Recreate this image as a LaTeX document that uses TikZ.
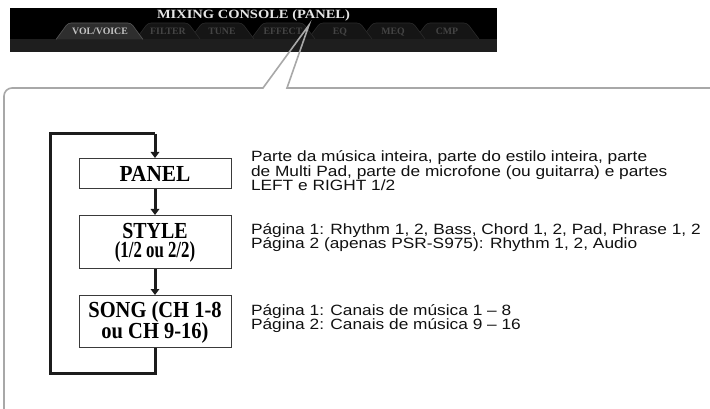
\documentclass[tikz,border=0pt]{standalone}
\usepackage{fontspec}
\usepackage{graphicx}
\setmainfont{Liberation Serif}
\newfontfamily\hel{Liberation Sans}
\usetikzlibrary{arrows.meta}
\definecolor{hdrstrip}{HTML}{1E1E1E}
\definecolor{tabdark}{HTML}{151515}
\definecolor{tabedge}{HTML}{2A2A2A}
\definecolor{tabsel}{HTML}{2E2E2E}
\definecolor{tablbl}{HTML}{444444}
\definecolor{tabsellbl}{HTML}{C4C4C4}
\definecolor{titlecol}{HTML}{E6E6E6}
\definecolor{callgray}{HTML}{A8A8A8}
\definecolor{loopcol}{HTML}{1C1C1C}
\definecolor{boxedge}{HTML}{3A3A3A}
\definecolor{txtcol}{HTML}{111111}
\newcommand{\bxt}[2]{\scalebox{#1}[1.12]{#2}}
\newcommand{\rxt}[1]{\scalebox{1}[0.86]{#1}}
\begin{document}
\begin{tikzpicture}[x=1pt,y=-1pt,
  every node/.style={inner sep=0pt, outer sep=0pt},
  flowbox/.style={draw=boxedge, line width=0.9pt, fill=white, minimum width=152pt},
  btxt/.style={anchor=base, font=\bfseries\fontsize{20.5}{20}\selectfont, text=black},
  rtxt/.style={anchor=base west, font=\hel\fontsize{17.3}{14.5}\selectfont, text=txtcol},
  tablabel/.style={anchor=base, font=\bfseries\fontsize{9.8}{10}\selectfont, text=tablbl},
  looparrow/.style={draw=loopcol, line width=3pt, line join=miter, -{Triangle[length=6pt,width=8.5pt]}},
  loopline/.style={draw=loopcol, line width=3pt, line join=miter},
  callout/.style={draw=callgray, line width=1.6pt, line join=miter}
]
\useasboundingbox (0,0) rectangle (710,409);
\fill[white] (0,0) rectangle (710,409);

% ---- header screenshot ----
\fill[black] (10,8) rectangle (497,39);
\fill[hdrstrip] (10,39) rectangle (497,52);
\foreach \c in {447,393,340,283,222,168}{
  \filldraw[fill=tabdark, draw=tabedge, line width=0.6pt, rounded corners=3pt]
    ({\c-32},39) -- ({\c-20},23) -- ({\c+20},23) -- ({\c+32},39);
}
\filldraw[fill=tabsel, draw=tabsel!80!white, line width=0.6pt, rounded corners=3pt]
  (56,39.5) -- (68,23) -- (131,23) -- (143,39.5);
\node[anchor=base, font=\bfseries\fontsize{12.6}{13}\selectfont, text=titlecol] (title) at (253.5,18.2) {\scalebox{1.15}[1]{MIXING CONSOLE (PANEL)}};
\node[tablabel, text=tabsellbl] (tvol) at (100,35) {VOL/VOICE};
\node[tablabel] (tfil) at (168,35) {FILTER};
\node[tablabel] (ttun) at (222,35) {TUNE};
\node[tablabel] (teff) at (283,35) {EFFECT};
\node[tablabel] (teq) at (340,35) {EQ};
\node[tablabel] (tmeq) at (393,35) {MEQ};
\node[tablabel] (tcmp) at (447,35) {CMP};

% ---- callout ----
\draw[callout] (4,410) -- (4,96) arc[start angle=180, end angle=270, radius=8]
  -- (263,88) -- (309,25) -- (287,88) -- (711,88);

% ---- flow boxes ----
\node[flowbox, minimum height=30pt] (panel) at (155,173) {};
\node[flowbox, minimum height=53pt] (style) at (155,241.5) {};
\node[flowbox, minimum height=52pt] (song) at (155,321) {};

\node[btxt] (panelt) at (155,181.7) {\bxt{1.04}{PANEL}};
\node[btxt] (stylet1) at (155,238.5) {\bxt{0.97}{STYLE}};
\node[btxt] (stylet2) at (155,258) {\bxt{0.82}{(1/2 ou 2/2)}};
\node[btxt] (songt1) at (155,317.5) {\bxt{1}{SONG (CH 1-8}};
\node[btxt] (songt2) at (155,338) {\bxt{1}{ou CH 9-16)}};

% ---- connectors ----
\coordinate (lbr) at (155,373);
\coordinate (lbl) at (50,373);
\coordinate (ltl) at (50,134);
\coordinate (ltr) at (155,134);
\draw[loopline] (song.south) -- (lbr) -- (lbl) -- (ltl) -- (ltr);
\draw[looparrow] (ltr) -- (panel.north);
\draw[looparrow] (panel.south) -- (style.north);
\draw[looparrow] (style.south) -- (song.north);
\draw[flowbox, fill=none] (panel.north west) rectangle (panel.south east);
\draw[flowbox, fill=none] (style.north west) rectangle (style.south east);
\draw[flowbox, fill=none] (song.north west) rectangle (song.south east);

% ---- descriptions ----
\node[rtxt] (t1a) at (251,161.7) {\rxt{Parte da música inteira, parte do estilo inteira, parte}};
\node[rtxt] (t1b) at (251,176.2) {\rxt{de Multi Pad, parte de microfone (ou guitarra) e partes}};
\node[rtxt] (t1c) at (251,190.7) {\rxt{LEFT e RIGHT 1/2}};
\node[rtxt] (t2a) at (251,234) {\rxt{Página 1: Rhythm 1, 2, Bass, Chord 1, 2, Pad, Phrase 1, 2}};
\node[rtxt] (t2b) at (251,248.5) {\rxt{Página 2 (apenas PSR-S975): Rhythm 1, 2, Audio}};
\node[rtxt] (t3a) at (251,315) {\rxt{Página 1: Canais de música 1 – 8}};
\node[rtxt] (t3b) at (251,329.5) {\rxt{Página 2: Canais de música 9 – 16}};
\end{tikzpicture}
\end{document}
